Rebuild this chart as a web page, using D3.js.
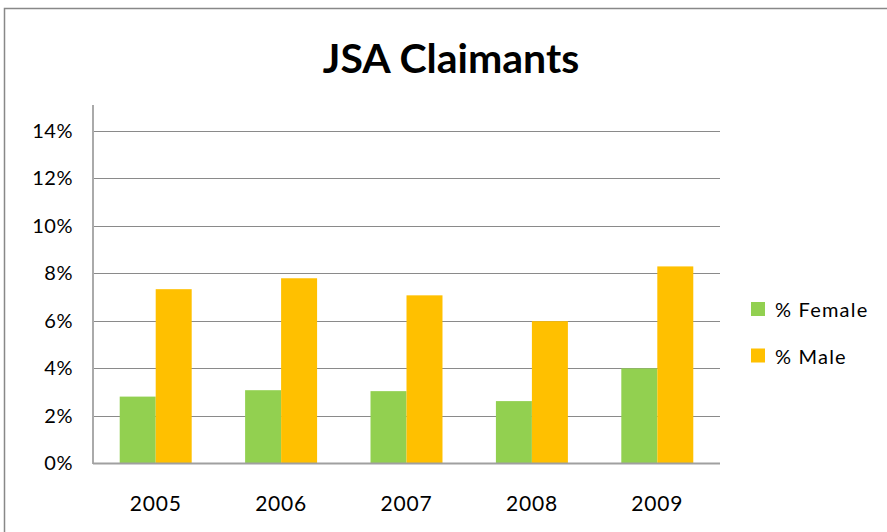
<!DOCTYPE html>
<html>
<head>
<meta charset="utf-8">
<script src="https://cdn.jsdelivr.net/npm/d3@7"></script>
<style>
  body { margin: 0; background: #fff; }
  text { font-family: Lato, "Open Sans", sans-serif; fill: #000; }
</style>
</head>
<body>
<div id="chart"></div>
<script>
var width = 887;
var height = 532;

// data
var years = ["2005", "2006", "2007", "2008", "2009"];
var series = ["% Female", "% Male"];
var female = [2.8, 3.07, 3.03, 2.61, 3.99];
var male = [7.33, 7.79, 7.07, 5.98, 8.29];
var yTicks = [0, 2, 4, 6, 8, 10, 12, 14];
var colors = ["#92D050", "#FFC000"];

var margin = {left: 93, right: 167, top: 131, bottom: 69};

var svg = d3.select("#chart")
	.append("svg")
	.attr("width", width)
	.attr("height", height);

// outer chart border
svg.append("rect")
	.attr("x", 4.5)
	.attr("y", 8.5)
	.attr("width", width)
	.attr("height", height)
	.attr("fill", "none")
	.attr("stroke", "#888")
	.attr("stroke-width", 1.5);

svg.append("text")
	.attr("x", 451)
	.attr("y", 73)
	.attr("text-anchor", "middle")
	.style("font-size", "41px")
	.style("font-weight", "bold")
	.text("JSA Claimants");

var x = d3.scaleBand()
	.domain(years)
	.range([margin.left, width - margin.right])
	.paddingInner(0.426)
	.paddingOuter(0.213);

var x1 = d3.scaleBand()
	.domain(series)
	.range([0, x.bandwidth()]);

var y = d3.scaleLinear()
	.domain([0, 14])
	.range([height - margin.bottom, margin.top]);

// grid lines
svg.append("g")
	.selectAll("line")
	.data(yTicks.slice(1))
	.enter()
	.append("line")
	.attr("x1", margin.left)
	.attr("x2", width - margin.right)
	.attr("y1", function(d){ return Math.round(y(d)) + 0.5; })
	.attr("y2", function(d){ return Math.round(y(d)) + 0.5; })
	.attr("stroke", "#8a8a8a")
	.attr("stroke-width", 1.2);

var rows = years.map(function(yr, i){
	return {year: yr, values: [female[i], male[i]]};
});

var groups = svg.selectAll(".year")
	.data(rows)
	.enter()
	.append("g")
	.attr("class", "year")
	.attr("transform", function(d){ return "translate(" + x(d.year) + ",0)"; });

groups.selectAll("rect")
	.data(function(d){
		return d.values.map(function(v, i){ return {key: series[i], value: v, i: i}; });
	})
	.enter()
	.append("rect")
	.attr("x", function(d){ return x1(d.key); })
	.attr("width", x1.bandwidth())
	.attr("y", function(d){ return y(d.value); })
	.attr("height", function(d){ return y(0) - y(d.value); })
	.attr("fill", function(d){ return colors[d.i]; });

// axes lines
svg.append("line")
	.attr("x1", margin.left)
	.attr("x2", margin.left)
	.attr("y1", margin.top - 26)
	.attr("y2", y(0) + 1)
	.attr("stroke", "#aaa")
	.attr("stroke-width", 2);

svg.append("line")
	.attr("x1", margin.left)
	.attr("x2", width - margin.right)
	.attr("y1", y(0) + 0.5)
	.attr("y2", y(0) + 0.5)
	.attr("stroke", "#a0a0a0")
	.attr("stroke-width", 2);

// y tick labels
svg.append("g")
	.selectAll("text")
	.data(yTicks)
	.enter()
	.append("text")
	.attr("x", 73)
	.attr("y", function(d){ return y(d) + 7; })
	.attr("text-anchor", "end")
	.style("font-size", "20px")
	.style("letter-spacing", "0.5px")
	.text(function(d){ return d + "%"; });

// x labels
svg.append("g")
	.selectAll("text")
	.data(years)
	.enter()
	.append("text")
	.attr("x", function(d){ return x(d) + x.bandwidth() / 2; })
	.attr("y", 511)
	.attr("text-anchor", "middle")
	.style("font-size", "21px")
	.style("letter-spacing", "0.8px")
	.text(function(d){ return d; });

// legend
var legend = svg.selectAll(".legend")
	.data(series)
	.enter()
	.append("g")
	.attr("class", "legend")
	.attr("transform", function(d, i){ return "translate(751," + (302 + i * 46.5) + ")"; });

legend.append("rect")
	.attr("width", 14)
	.attr("height", 14)
	.attr("fill", function(d, i){ return colors[i]; });

legend.append("text")
	.attr("x", 24)
	.attr("y", 15)
	.style("font-size", "20px")
	.style("letter-spacing", "1.2px")
	.text(function(d){ return d; });
</script>
</body>
</html>
